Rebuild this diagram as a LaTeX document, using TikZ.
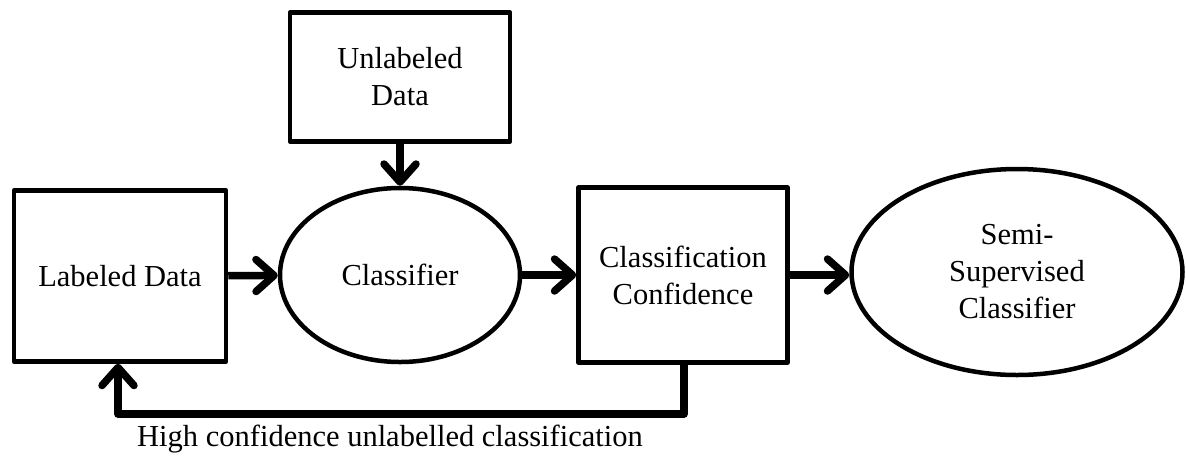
\documentclass[tikz,border=0pt]{standalone}
\usepackage{fontspec}
\setmainfont{Liberation Serif}
\usetikzlibrary{shapes.geometric,arrows.meta}
\begin{document}
\begin{tikzpicture}[x=1pt,y=-1pt,
  every node/.style={font=\fontsize{30.5}{37}\selectfont,align=center},
  box/.style={draw,line width=4.5pt,rectangle,line join=round,inner sep=0pt},
  oval/.style={draw,line width=4.5pt,ellipse,inner sep=0pt},
  flow/.style={line width=7.5pt,-{Straight Barb[length=18pt,width=32pt,round]}}]
\useasboundingbox (0,0) rectangle (1186,459);
\node[box,minimum width=212pt,minimum height=171pt] (ld) at (120,276) {Labeled Data};
\node[box,minimum width=220pt,minimum height=129pt] (ud) at (400,77) {Unlabeled\\Data};
\node[oval,minimum width=240pt,minimum height=174pt] (cl) at (400,275) {Classifier};
\node[box,minimum width=209pt,minimum height=175pt] (cc) at (683,275) {Classification\\Confidence};
\node[oval,minimum width=331pt,minimum height=206pt] (ss) at (1017,272) {Semi-\\Supervised\\Classifier};

\coordinate (c1) at (684,414);
\coordinate (c2) at (118,414);

\draw[flow] (ld) -- (cl);
\draw[flow] (ud) -- (cl);
\draw[flow] (cl) -- (cc);
\draw[flow] (cc.east) -- (cc.east -| ss.west);
\draw[flow,line join=round] (cc.south -| c1) -- (c1) -- (c2) -- (ld.south -| c2);

\node (fb) at (390,439) {High confidence unlabelled classification};
\end{tikzpicture}
\end{document}
